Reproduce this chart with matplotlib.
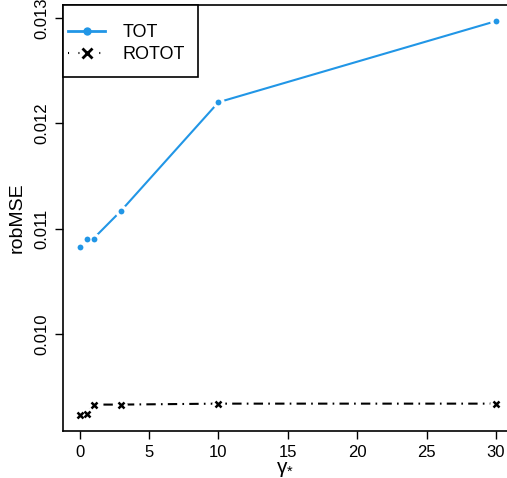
import matplotlib
matplotlib.use("Agg")
import matplotlib.pyplot as plt
from matplotlib.lines import Line2D
from matplotlib.patches import Rectangle

plt.rcParams["font.family"] = ["Liberation Sans", "DejaVu Sans"]
plt.rcParams["mathtext.fontset"] = "custom"
plt.rcParams["mathtext.rm"] = "Liberation Sans"
plt.rcParams["mathtext.it"] = "Liberation Sans"

# values
gamma = [0, 0.5, 1, 3, 10, 30]
tot = [0.010822, 0.010905, 0.010905, 0.011171, 0.012200, 0.012971]
rotot = [0.009231, 0.009241, 0.009327, 0.009327, 0.009336, 0.009336]
xticks = [0, 5, 10, 15, 20, 25, 30]
yticks = [0.010, 0.011, 0.012, 0.013]
ytick_labels = ["0.010", "0.011", "0.012", "0.013"]
series_names = ["TOT", "ROTOT"]

blue = "#2196E6"

# the plot box runs past the right edge of the image in the original,
# so the axes stop at the figure edge with the right spine hidden
fig = plt.figure(figsize=(5.07, 4.78), dpi=100)
ax = fig.add_axes([63 / 507, 1 - 431 / 478, 444 / 507, 426 / 478])


def r_type_b(x, y, color, ls, marker, ms, mew):
    # R type="b": line with small gaps around the points
    ax.plot(x, y, color=color, ls=ls, lw=1.5, zorder=2)
    ax.plot(x, y, ls="none", marker="o", ms=9, mfc="white", mec="none", zorder=3)
    ax.plot(x, y, ls="none", marker=marker, ms=ms, color=color, mew=mew, zorder=4)


r_type_b(gamma, tot, blue, "-", "o", 4.2, 0)
r_type_b(gamma, rotot, "black", (0, (0.8, 2.5, 4.5, 2.5)), "x", 5, 1.8)

ax.set_xlim(-1.2, 30.79)
ax.set_ylim(0.009076, 0.013124)
ax.set_xticks(xticks)
ax.set_xticklabels([str(t) for t in xticks])
ax.set_yticks(yticks)
ax.set_yticklabels(ytick_labels, rotation=90, va="center")
ax.tick_params(labelsize=12, length=6, width=1, direction="out", pad=4)
for s in ax.spines.values():
    s.set_linewidth(1.2)
ax.spines["right"].set_visible(False)

ax.set_xlabel(r"$\mathrm{\gamma}_{*}$", fontsize=15, labelpad=0)
ax.set_ylabel("robMSE", fontsize=14, labelpad=6)

# legend box drawn like R's legend()
ax.add_patch(Rectangle((0, 1 - 72 / 426), 135 / 444, 72 / 426, transform=ax.transAxes,
                       fill=True, facecolor="white", edgecolor="black", lw=1.2,
                       zorder=5, clip_on=False))
handles = [
    Line2D([], [], color=blue, lw=2, marker="o", ms=6, mew=0),
    Line2D([], [], color="black", lw=1.5, ls=(0, (0.5, 4.5)), marker="x", ms=7, mew=2),
]
leg = ax.legend(handles, series_names, loc="upper left", bbox_to_anchor=(5 / 444, 1 - 19 / 426),
                fontsize=13, frameon=False, borderaxespad=0, borderpad=0,
                handlelength=2.05, handletextpad=0.95, labelspacing=0.28)
leg.set_zorder(6)

fig.savefig("out.png", dpi=100)
